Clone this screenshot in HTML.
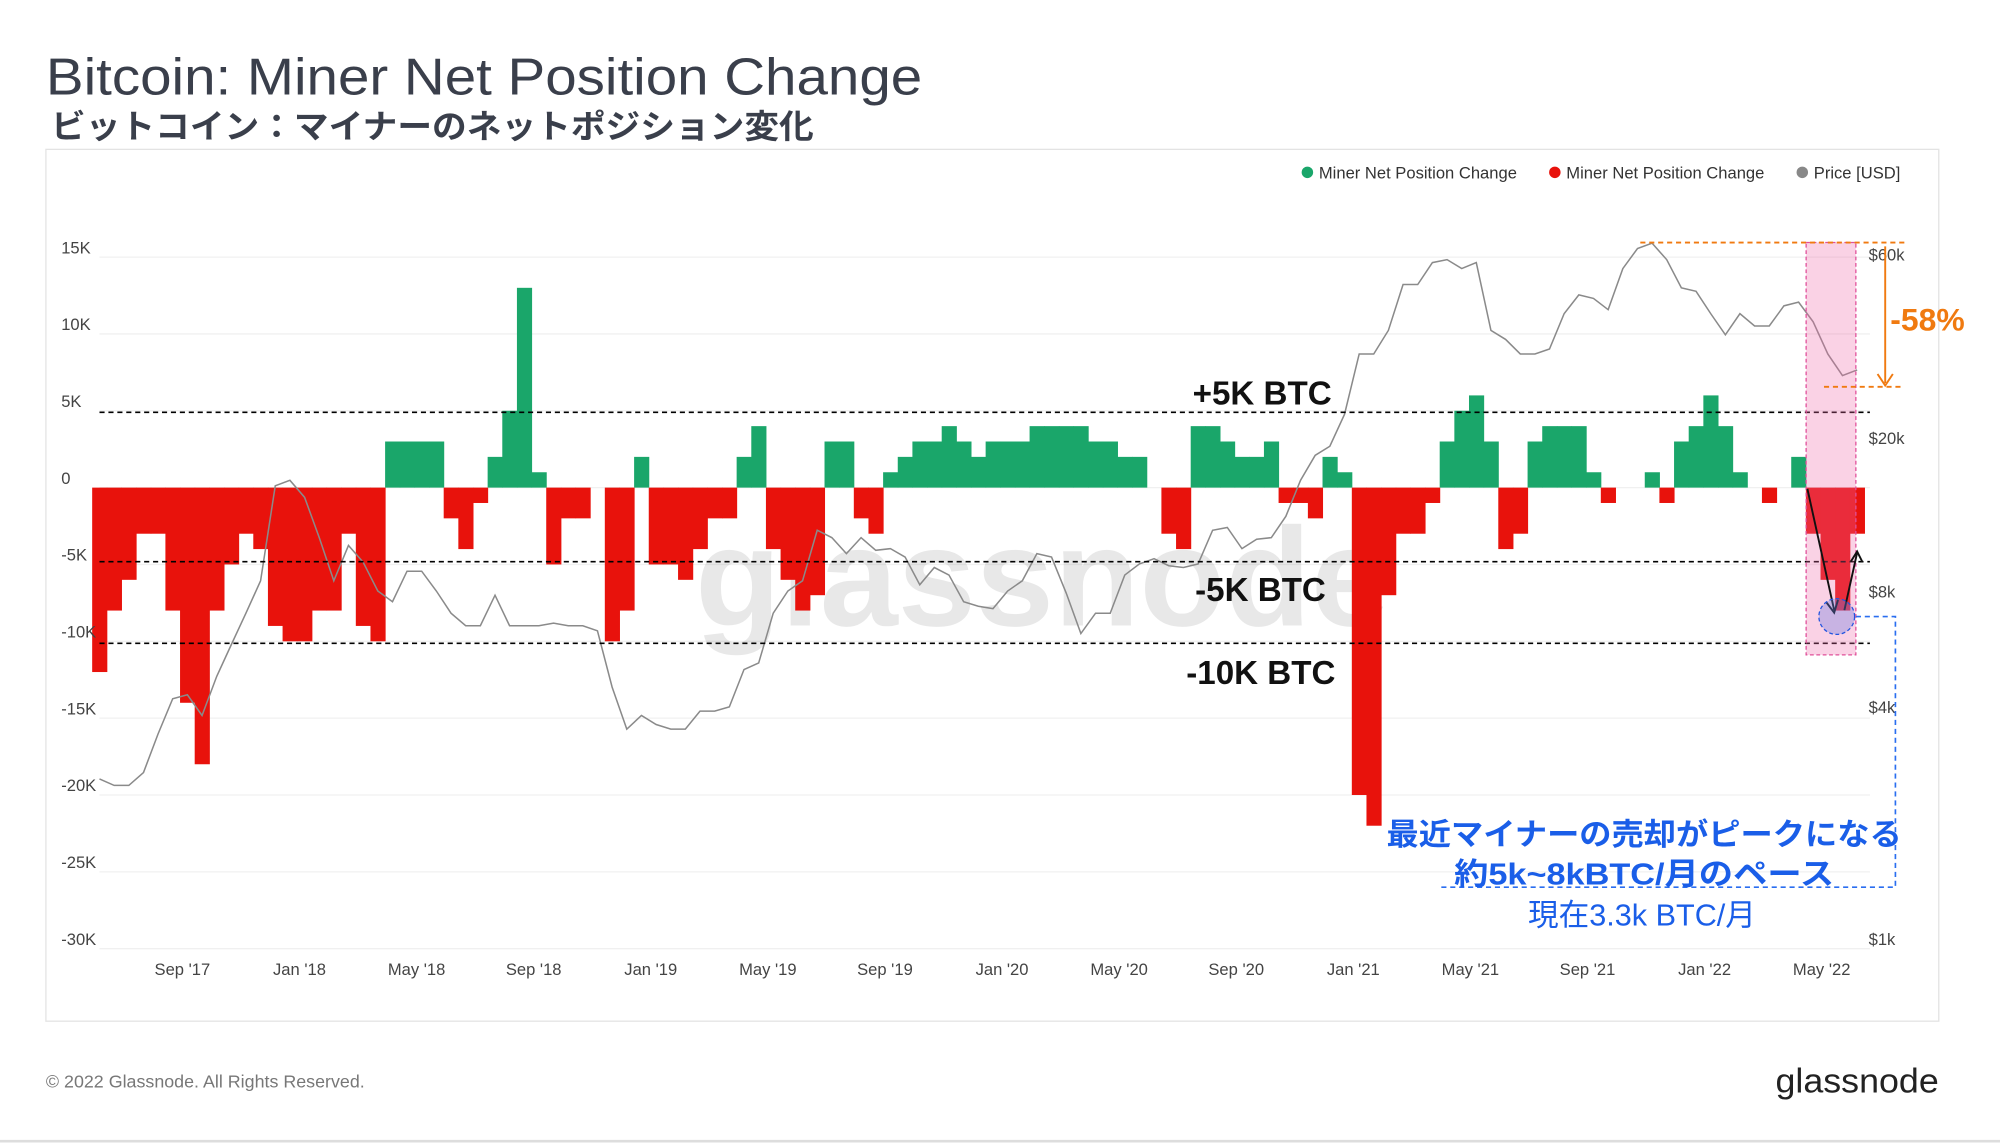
<!DOCTYPE html>
<html><head><meta charset="utf-8">
<style>
html,body{margin:0;padding:0;background:#fff;}
svg{display:block;}
text{font-family:"Liberation Sans","Noto Sans CJK JP",sans-serif;}
</style></head>
<body>
<svg id="chart" width="2000" height="1145" viewBox="0 0 1568 897" preserveAspectRatio="none" xmlns="http://www.w3.org/2000/svg">
<rect x="0" y="0" width="1568" height="897" fill="#fff"/>
<text x="36" y="74" font-size="41" fill="#3a3f4b" textLength="687" lengthAdjust="spacingAndGlyphs">Bitcoin: Miner Net Position Change</text>
<text x="40" y="108" font-size="26" font-weight="bold" fill="#3a3f4b" textLength="598" lengthAdjust="spacingAndGlyphs">ビットコイン：マイナーのネットポジション変化</text>
<rect x="36" y="117" width="1484" height="683" fill="none" stroke="#e3e3e3"/>
<g font-size="13" fill="#333">
<circle cx="1025" cy="135" r="4.5" fill="#1aa66a"/><text x="1034" y="140">Miner Net Position Change</text>
<circle cx="1219" cy="135" r="4.5" fill="#e8120c"/><text x="1228" y="140">Miner Net Position Change</text>
<circle cx="1413" cy="135" r="4.5" fill="#888"/><text x="1422" y="140">Price [USD]</text>
</g>
<g id="grid"></g>
<text x="545" y="490" font-size="110" font-weight="bold" fill="#000" fill-opacity="0.09">glassnode</text>
<g id="bars"></g>
<g id="price"></g>
<g id="axes" font-size="13" fill="#444"></g>
<g>
<line x1="78" y1="323" x2="1466" y2="323" stroke="#000" stroke-dasharray="4,3" stroke-width="1.3"/>
<line x1="78" y1="440" x2="1466" y2="440" stroke="#000" stroke-dasharray="4,3" stroke-width="1.3"/>
<line x1="78" y1="504" x2="1466" y2="504" stroke="#000" stroke-dasharray="4,3" stroke-width="1.3"/>
<text x="935" y="317" font-size="26" font-weight="bold" fill="#111">+5K BTC</text>
<text x="937" y="471" font-size="26" font-weight="bold" fill="#111">-5K BTC</text>
<text x="930" y="536" font-size="26" font-weight="bold" fill="#111">-10K BTC</text>
<rect x="1416" y="190" width="39" height="323" fill="#f06aa8" fill-opacity="0.3" stroke="#e0509a" stroke-dasharray="3,2"/>
<line x1="1286" y1="190" x2="1493" y2="190" stroke="#f07a10" stroke-dasharray="4,3" stroke-width="1.5"/>
<line x1="1430" y1="303" x2="1493" y2="303" stroke="#f07a10" stroke-dasharray="4,3" stroke-width="1.5"/>
<line x1="1478" y1="193" x2="1478" y2="300" stroke="#f07a10" stroke-width="1.5"/>
<path d="M1472,293 L1478,302 L1484,293" fill="none" stroke="#f07a10" stroke-width="1.5"/>
<text x="1482" y="259" font-size="25" font-weight="bold" fill="#f07a10">-58%</text>
<line x1="1417" y1="383" x2="1438" y2="478" stroke="#111" stroke-width="1.5"/>
<path d="M1432,472 L1438,480 L1441,470" fill="none" stroke="#111" stroke-width="1.5"/>
<line x1="1446" y1="478" x2="1456" y2="433" stroke="#111" stroke-width="1.5"/>
<path d="M1451,440 L1456,432 L1460,440" fill="none" stroke="#111" stroke-width="1.5"/>
<circle cx="1440" cy="483" r="14" fill="#6a7ae0" fill-opacity="0.35" stroke="#2255e0" stroke-dasharray="3,2"/>
<path d="M1455,483 L1486,483 L1486,695 L1130,695" fill="none" stroke="#2a6ef0" stroke-dasharray="4,3" stroke-width="1.3"/>
<text x="1087" y="662" font-size="24" font-weight="bold" fill="#1a5ee8" textLength="404" lengthAdjust="spacingAndGlyphs">最近マイナーの売却がピークになる</text>
<text x="1140" y="693" font-size="24" font-weight="bold" fill="#1a5ee8" textLength="298" lengthAdjust="spacingAndGlyphs">約5k~8kBTC/月のペース</text>
<text x="1198" y="725" font-size="24" fill="#1a5ee8">現在3.3k BTC/月</text>
</g>
<text x="36" y="852" font-size="14" fill="#777">© 2022 Glassnode. All Rights Reserved.</text>
<text x="1392" y="856" font-size="27" fill="#222" textLength="128" lengthAdjust="spacingAndGlyphs">glassnode</text>
<line x1="0" y1="894" x2="1568" y2="894" stroke="#ddd" stroke-width="2"/>
</svg>
<script>
const netValuesK = [-12,-8,-6,-3,-3,-8,-14,-18,-8,-5,-3,-4,-9,-10,-10,-8,-8,-3,-9,-10,3,3,3,3,-2,-4,-1,2,5,13,1,-5,-2,-2,0,-10,-8,2,-5,-5,-6,-4,-2,-2,2,4,-4,-6,-8,-7,3,3,-2,-3,1,2,3,3,4,3,2,3,3,3,4,4,4,4,3,3,2,2,0,-3,-4,4,4,3,2,2,3,-1,-1,-2,2,1,-20,-22,-7,-3,-3,-1,3,5,6,3,-4,-3,3,4,4,4,1,-1,0,0,1,-1,3,4,6,4,1,0,-1,0,2,-3,-6,-8,-3];
const priceUSD = [2600,2500,2500,2700,3400,4200,4300,3800,4800,5800,7000,8500,15000,15500,14000,11000,8500,10500,9500,8000,7500,9000,9000,8000,7000,6500,6500,7800,6500,6500,6500,6600,6500,6500,6300,4500,3500,3800,3600,3500,3500,3900,3900,4000,5000,5200,7000,8000,8500,11500,11000,10000,11000,10200,10300,9800,8300,9200,8800,7500,7300,7200,8000,8500,10000,9800,7900,6200,7000,7000,8800,9400,9700,9300,9200,9400,11500,11700,10300,10900,11000,12500,15500,18000,19000,23000,33000,33000,38000,50000,50000,57000,58000,55000,57000,38000,36000,33000,33000,34000,42000,47000,46000,43000,55000,62000,64000,58000,49000,48000,42000,37000,42000,39000,39000,44000,45000,40000,33000,29000,30000];
const leftTicks = [15,10,5,0,-5,-10,-15,-20,-25,-30];
const rightTicks = [60000,20000,8000,4000,1000];
const rightTickLabels = ["$60k","$20k","$8k","$4k","$1k"];
const xTickLabels = ["Sep '17","Jan '18","May '18","Sep '18","Jan '19","May '19","Sep '19","Jan '20","May '20","Sep '20","Jan '21","May '21","Sep '21","Jan '22","May '22"];
const NS="http://www.w3.org/2000/svg";
const X0=78, X1=1456;
const yL = v => 382 - v*60.2/5;
const yR = p => 199 - 131*Math.log(p/60000);
const n = netValuesK.length;
const xi = i => X0 + (X1-X0)*i/(n-1);
function mk(tag, attrs, parent){const e=document.createElementNS(NS,tag);for(const k in attrs)e.setAttribute(k,attrs[k]);parent.appendChild(e);return e;}
const grid=document.getElementById('grid'), axes=document.getElementById('axes');
leftTicks.forEach(v=>{
  const l=mk('line',{x1:X0,x2:1466,y1:yL(v),y2:yL(v)},grid);l.setAttribute('stroke','#f0f0f0');
  
  
  const t=mk('text',{x:48,y:yL(v)-3},axes);t.textContent=v===0?'0':v+'K';
  
  
});
rightTicks.forEach((p,i)=>{
  const t=mk('text',{x:1465,y:yR(p)+5},axes);t.textContent=rightTickLabels[i];
  
  
});
xTickLabels.forEach((s,i)=>{
  const t=mk('text',{x:143+i*91.8,y:764,'text-anchor':'middle'},axes);t.textContent=s;
  
  
});
const bars=document.getElementById('bars');
const w=(X1-X0)/(n-1);
netValuesK.forEach((v,i)=>{
  const y0=yL(0), y1=yL(v);
  const r=mk('rect',{x:xi(i)-w/2,y:Math.min(y0,y1),width:w+0.4,height:Math.abs(y1-y0),fill:v>=0?'#1aa66a':'#e8120c'},bars);
  
  
});
const pg=document.getElementById('price');
const pts=priceUSD.map((p,i)=>(X0+(X1-X0)*i/(priceUSD.length-1)).toFixed(1)+','+yR(p).toFixed(1)).join(' ');
const pl=mk('polyline',{points:pts,fill:'none',stroke:'#8a8a8a','stroke-width':1.2},pg);


</script>
</body></html>
